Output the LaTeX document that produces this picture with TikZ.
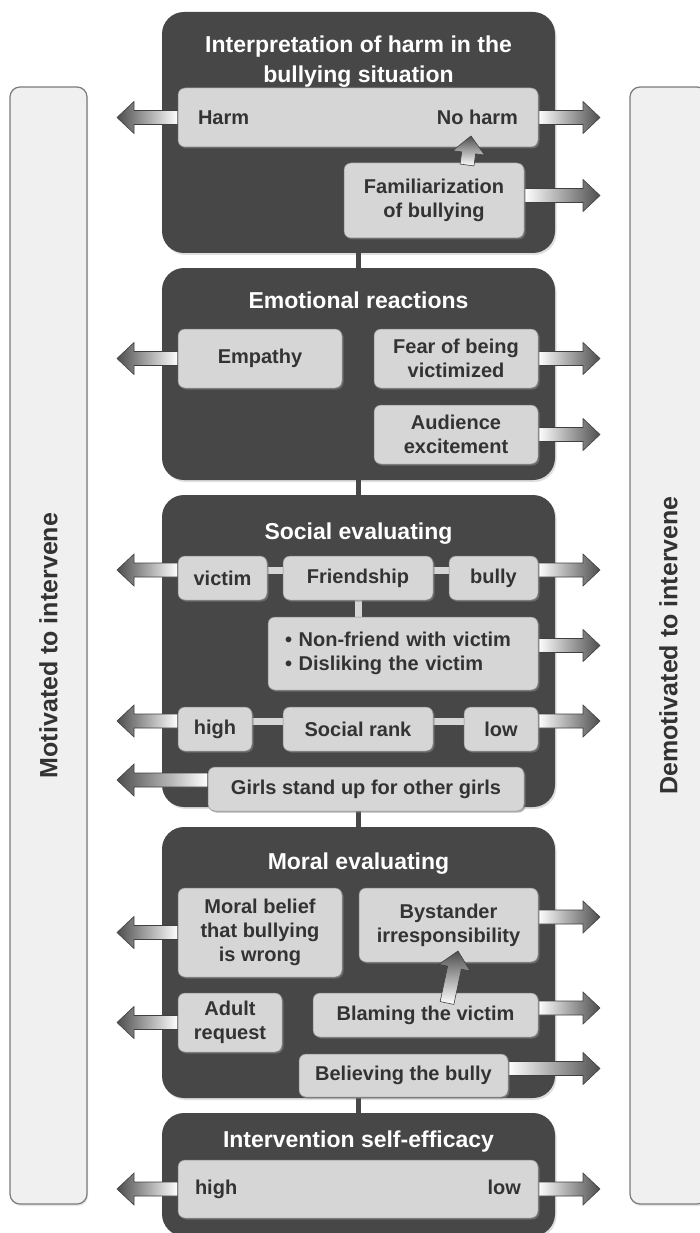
\documentclass[tikz,border=0pt]{standalone}
\usepackage{fontspec}
\setmainfont{Liberation Sans}
\usetikzlibrary{calc,shadows}
\definecolor{darkbox}{HTML}{474747}
\definecolor{lightbox}{HTML}{D6D6D6}
\definecolor{sidefill}{HTML}{F0F0F0}
\definecolor{sideline}{HTML}{7A7A7A}
\definecolor{txt}{HTML}{333333}
\definecolor{arrowdark}{HTML}{4E4E4E}
\newcommand\bxfont{\fontsize{20}{24}\selectfont\bfseries}
\newcommand\ttlfont{\fontsize{23}{30}\selectfont\bfseries}
\newcommand\sdfont{\fontsize{25}{30}\selectfont\bfseries}
\pgfdeclarelayer{back}
\pgfdeclarelayer{mid}
\pgfsetlayers{back,mid,main}
\tikzset{
  darkpanel/.style={fill=darkbox, rounded corners=22pt, inner sep=0pt,
    drop shadow={shadow xshift=1.5pt, shadow yshift=-2pt, opacity=0.25}},
  lbox/.style={fill=lightbox, draw=black!45, line width=0.5pt, rounded corners=7pt,
    inner sep=0pt, align=center, font=\bxfont, text=txt,
    drop shadow={shadow xshift=1.5pt, shadow yshift=-1.5pt, opacity=0.6}},
  ptitle/.style={text=white, font=\ttlfont, align=center, inner sep=0pt},
  link/.style={draw=darkbox, line width=5pt},
  lightlink/.style={draw=lightbox, line width=7pt},
  sidebar/.style={fill=sidefill, draw=sideline, line width=1.2pt, rounded corners=10pt,
    font=\sdfont, text=txt, inner sep=0pt,
    drop shadow={shadow xshift=1pt, shadow yshift=-2pt, opacity=0.2}},
  barrowR/.style={draw=black!75, line width=0.6pt, left color=white, right color=arrowdark},
  barrowL/.style={draw=black!75, line width=0.6pt, left color=arrowdark, right color=white},
  barrowU/.style={draw=black!75, line width=0.6pt, top color=arrowdark, bottom color=white},
}
\newcommand\blockarrow[3]{%
  \coordinate (hb) at ($(#3)!17pt!(#2)$);
  \path[#1] ($(#2)!7pt!90:(#3)$) -- ($(hb)!7pt!90:(#3)$) -- ($(hb)!16pt!90:(#3)$)
    -- (#3) -- ($(hb)!16pt!-90:(#3)$) -- ($(hb)!7pt!-90:(#3)$) -- ($(#2)!7pt!-90:(#3)$) -- cycle;}
\newcommand\leftarr[2][0]{%
  \coordinate (ba) at ([yshift=#1pt]#2);
  \coordinate (bt) at (ba -| Lx);
  \blockarrow{barrowL}{ba}{bt}}
\newcommand\rightarr[2][0]{%
  \coordinate (ba) at ([yshift=#1pt]#2);
  \coordinate (bt) at (ba -| Rx);
  \blockarrow{barrowR}{ba}{bt}}
\begin{document}
\begin{tikzpicture}[x=1pt,y=-1pt]
\useasboundingbox (0,0) rectangle (699,1233);
\coordinate (Lx) at (117,0);
\coordinate (Rx) at (600,0);

\begin{pgfonlayer}{back}
\node[sidebar, rotate=90, minimum width=1117, minimum height=77] (motiv) at (48.5,645.5) {Motivated to intervene};
\node[sidebar, rotate=90, minimum width=1117, minimum height=77] (demotiv) at (668.5,645.5) {Demotivated to intervene};
\node[darkpanel, minimum width=393, minimum height=241] (p1) at (358.5,132.5) {};
\node[darkpanel, minimum width=393, minimum height=212] (p2) at (358.5,374) {};
\node[darkpanel, minimum width=393, minimum height=312] (p3) at (358.5,651) {};
\node[darkpanel, minimum width=393, minimum height=271] (p4) at (358.5,962.5) {};
\node[darkpanel, minimum width=393, minimum height=123] (p5) at (358.5,1174.5) {};
\draw[link] (p1.south) -- (p2.north);
\draw[link] (p2.south) -- (p3.north);
\draw[link] (p3.south) -- (p4.north);
\draw[link] (p4.south) -- (p5.north);
\end{pgfonlayer}

% titles
\node[ptitle] (t1) at (358.5,62) {Interpretation of harm in the\\bullying situation};
\node[ptitle] (t2) at (358.5,300) {Emotional reactions};
\node[ptitle] (t3) at (358.5,534) {Social evaluating};
\node[ptitle] (t4) at (358.5,864) {Moral evaluating};
\node[ptitle] (t5) at (358.5,1142) {Intervention self-efficacy};

% light boxes
\node[lbox, minimum width=360, minimum height=59] (harm) at (358,117.5) {\makebox[320pt]{Harm\hfill No harm}};
\node[lbox, minimum width=180, minimum height=75] (fam) at (434,200.5) {Familiarization\\of bullying};
\node[lbox, minimum width=164, minimum height=59] (emp) at (260,358.5) {Empathy};
\node[lbox, minimum width=164, minimum height=59] (fear) at (456,358.5) {Fear of being\\victimized};
\node[lbox, minimum width=164, minimum height=59] (aud) at (456,434.5) {Audience\\excitement};
\node[lbox, minimum width=89, minimum height=44] (victim) at (222.5,578) {victim};
\node[lbox, minimum width=150, minimum height=44] (friend) at (358,578) {Friendship};
\node[lbox, minimum width=89, minimum height=44] (bully) at (493.5,578) {bully};
\node[lbox, minimum width=270, minimum height=73, text width=236pt, align=left] (nonf) at (403,653.5)
  {\textbullet{} Non-friend with victim\\\textbullet{} Disliking the victim};
\node[lbox, minimum width=74, minimum height=44] (high) at (215,729) {high};
\node[lbox, minimum width=150, minimum height=44] (rank) at (358,729) {Social rank};
\node[lbox, minimum width=74, minimum height=44] (low) at (501,729) {low};
\node[lbox, minimum width=316, minimum height=44] (girls) at (366,789) {Girls stand up for other girls};
\node[lbox, minimum width=164, minimum height=89] (moral) at (260,932.5) {Moral belief\\that bullying\\is wrong};
\node[lbox, minimum width=179, minimum height=74] (byst) at (448.5,925) {Bystander\\irresponsibility};
\node[lbox, minimum width=104, minimum height=59] (adult) at (230,1022.5) {Adult\\request};
\node[lbox, minimum width=225, minimum height=44] (blame) at (425.5,1015) {Blaming the victim};
\node[lbox, minimum width=209, minimum height=43] (believe) at (403.5,1075.5) {Believing the bully};
\node[lbox, minimum width=360, minimum height=58] (eff) at (358,1189) {\makebox[326pt]{high\hfill low}};

\begin{pgfonlayer}{mid}
\draw[lightlink] ([yshift=8pt]victim.east) -- ([yshift=8pt]friend.west);
\draw[lightlink] ([yshift=8pt]friend.east) -- ([yshift=8pt]bully.west);
\draw[lightlink] (friend.south) -- (friend.south |- nonf.north);
\draw[lightlink] ([yshift=8pt]high.east) -- ([yshift=8pt]rank.west);
\draw[lightlink] ([yshift=8pt]rank.east) -- ([yshift=8pt]low.west);
% arrows towards "motivated"
\leftarr{harm.west}
\leftarr{emp.west}
\leftarr[8]{victim.west}
\leftarr[8]{high.west}
\leftarr[9]{girls.west}
\leftarr{moral.west}
\leftarr{adult.west}
\leftarr{eff.west}
% arrows towards "demotivated"
\rightarr{harm.east}
\rightarr[5]{fam.east}
\rightarr{fear.east}
\rightarr{aud.east}
\rightarr[8]{bully.east}
\rightarr[8]{nonf.east}
\rightarr[8]{low.east}
\rightarr[8]{byst.east}
\rightarr[7]{blame.east}
\rightarr[7]{believe.east}
\rightarr{eff.east}
\end{pgfonlayer}

% influence arrows
\coordinate (u1a) at (467,165);
\coordinate (u1b) at (471,136);
\blockarrow{barrowU}{u1a}{u1b}
\coordinate (u2a) at (447,1003);
\coordinate (u2b) at (458,951);
\blockarrow{barrowU}{u2a}{u2b}
\end{tikzpicture}
\end{document}
